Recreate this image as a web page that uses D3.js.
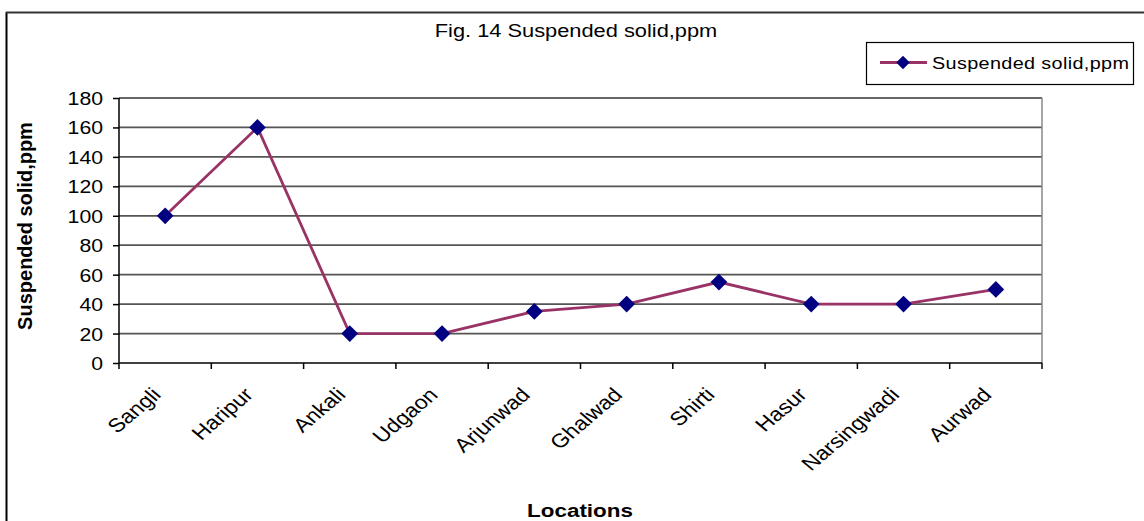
<!DOCTYPE html>
<html><head><meta charset="utf-8">
<script src="https://cdn.jsdelivr.net/npm/d3@7"></script>
<style>body{margin:0;background:#fff}svg{display:block}text{font-family:"Liberation Sans",Arial,sans-serif}</style>
</head><body>
<svg id="c" width="1144" height="521"></svg>
<script>
const categories = ["Sangli","Haripur","Ankali","Udgaon","Arjunwad","Ghalwad","Shirti","Hasur","Narsingwadi","Aurwad"];
const values = [100,160,20,20,35,40,55,40,40,50];
const yTicks = [0,20,40,60,80,100,120,140,160,180];
const titleText = "Fig. 14 Suspended solid,ppm";
const seriesName = "Suspended solid,ppm";
const xTitle = "Locations";
const yTitle = "Suspended solid,ppm";

const svg = d3.select("#c");
const SX = 1.18;
const L = 119, R = 1042, T = 98, B = 363;
const x = d3.scaleBand().domain(categories).range([L, R]);
const y = d3.scaleLinear().domain([0, 180]).range([B, T]);

// outer border (left & top)
svg.append("line").attr("x1",6.5).attr("x2",6.5).attr("y1",12).attr("y2",521).attr("stroke","#000").attr("stroke-width",2);
svg.append("line").attr("x1",6).attr("x2",1144).attr("y1",12.5).attr("y2",12.5).attr("stroke","#333").attr("stroke-width",2);

// title
svg.append("text").attr("transform",`translate(576,37) scale(${SX},1)`).attr("text-anchor","middle")
  .attr("font-size",18.5).attr("fill","#000").text(titleText);

// gridlines
svg.append("g").selectAll("line").data(yTicks.filter(d=>d>0)).join("line")
  .attr("x1",L).attr("x2",R).attr("y1",d=>y(d)).attr("y2",d=>y(d))
  .attr("stroke",d=>d===180?"#333":"#555").attr("stroke-width",1.7);
// plot right border
svg.append("line").attr("x1",R).attr("x2",R).attr("y1",T).attr("y2",B).attr("stroke","#888").attr("stroke-width",1.5);

// y axis
const yAxis = svg.append("g").attr("transform",`translate(${L},0)`)
  .call(d3.axisLeft(y).tickValues(yTicks).tickSize(6).tickPadding(10).tickFormat(d3.format("d")));
yAxis.select(".domain").attr("stroke","#000").attr("stroke-width",1.5).attr("d",`M0,${T}V${B}`);
yAxis.selectAll(".tick line").attr("stroke","#000").attr("stroke-width",1.5);
yAxis.selectAll(".tick text").attr("font-size",18).attr("fill","#000")
  .attr("font-family","Liberation Sans, Arial, sans-serif")
  .attr("transform",function(){const xx=+d3.select(this).attr("x"); return `translate(${xx*(1-SX)},0) scale(${SX},1)`;})
  .attr("dy","0.36em");

// x axis
const xg = svg.append("g");
xg.append("line").attr("x1",L).attr("x2",R).attr("y1",B).attr("y2",B).attr("stroke","#000").attr("stroke-width",1.5);
const bounds = categories.map((c)=>x(c)).concat([R]);
xg.selectAll("line.tk").data(bounds).join("line").attr("class","tk")
  .attr("x1",d=>d).attr("x2",d=>d).attr("y1",B).attr("y2",B+6).attr("stroke","#000").attr("stroke-width",1.5);
xg.selectAll("text").data(categories).join("text")
  .attr("transform",d=>`translate(${x(d)+x.bandwidth()/2-3},396) scale(${SX},1) rotate(-45)`)
  .attr("text-anchor","end").attr("font-size",19.5).attr("fill","#000").text(d=>d);

// axis titles
svg.append("text").attr("transform",`translate(580,517) scale(${SX},1)`).attr("text-anchor","middle")
  .attr("font-size",19).attr("font-weight","bold").text(xTitle);
svg.append("text").attr("transform",`translate(32,226) rotate(-90)`).attr("text-anchor","middle")
  .attr("font-size",20).attr("font-weight","bold").text(yTitle);

// line + markers
const cx = d=>x(d)+x.bandwidth()/2;
const line = d3.line().x((d,i)=>cx(categories[i])).y(d=>y(d));
svg.append("path").datum(values).attr("d",line).attr("fill","none").attr("stroke","#993366").attr("stroke-width",2.8);
const diamond = d3.symbol().type(d3.symbolSquare).size(140);
svg.append("g").selectAll("path").data(values).join("path")
  .attr("d",diamond()).attr("fill","#000080")
  .attr("transform",(d,i)=>`translate(${cx(categories[i])},${y(d)}) rotate(45)`);

// legend
const lg = svg.append("g");
lg.append("rect").attr("x",866.5).attr("y",42.5).attr("width",267).attr("height",42).attr("fill","#fff").attr("stroke","#000").attr("stroke-width",1.2);
lg.append("line").attr("x1",880).attr("x2",927).attr("y1",62.5).attr("y2",62.5).attr("stroke","#993366").attr("stroke-width",2.8);
lg.append("path").attr("d",d3.symbol().type(d3.symbolSquare).size(90)()).attr("fill","#000080").attr("transform","translate(903,62.5) rotate(45)");
lg.append("text").attr("transform",`translate(932,68.5) scale(${SX},1)`).attr("font-size",16.8).attr("letter-spacing",0.3).text(seriesName);
</script>
</body></html>
